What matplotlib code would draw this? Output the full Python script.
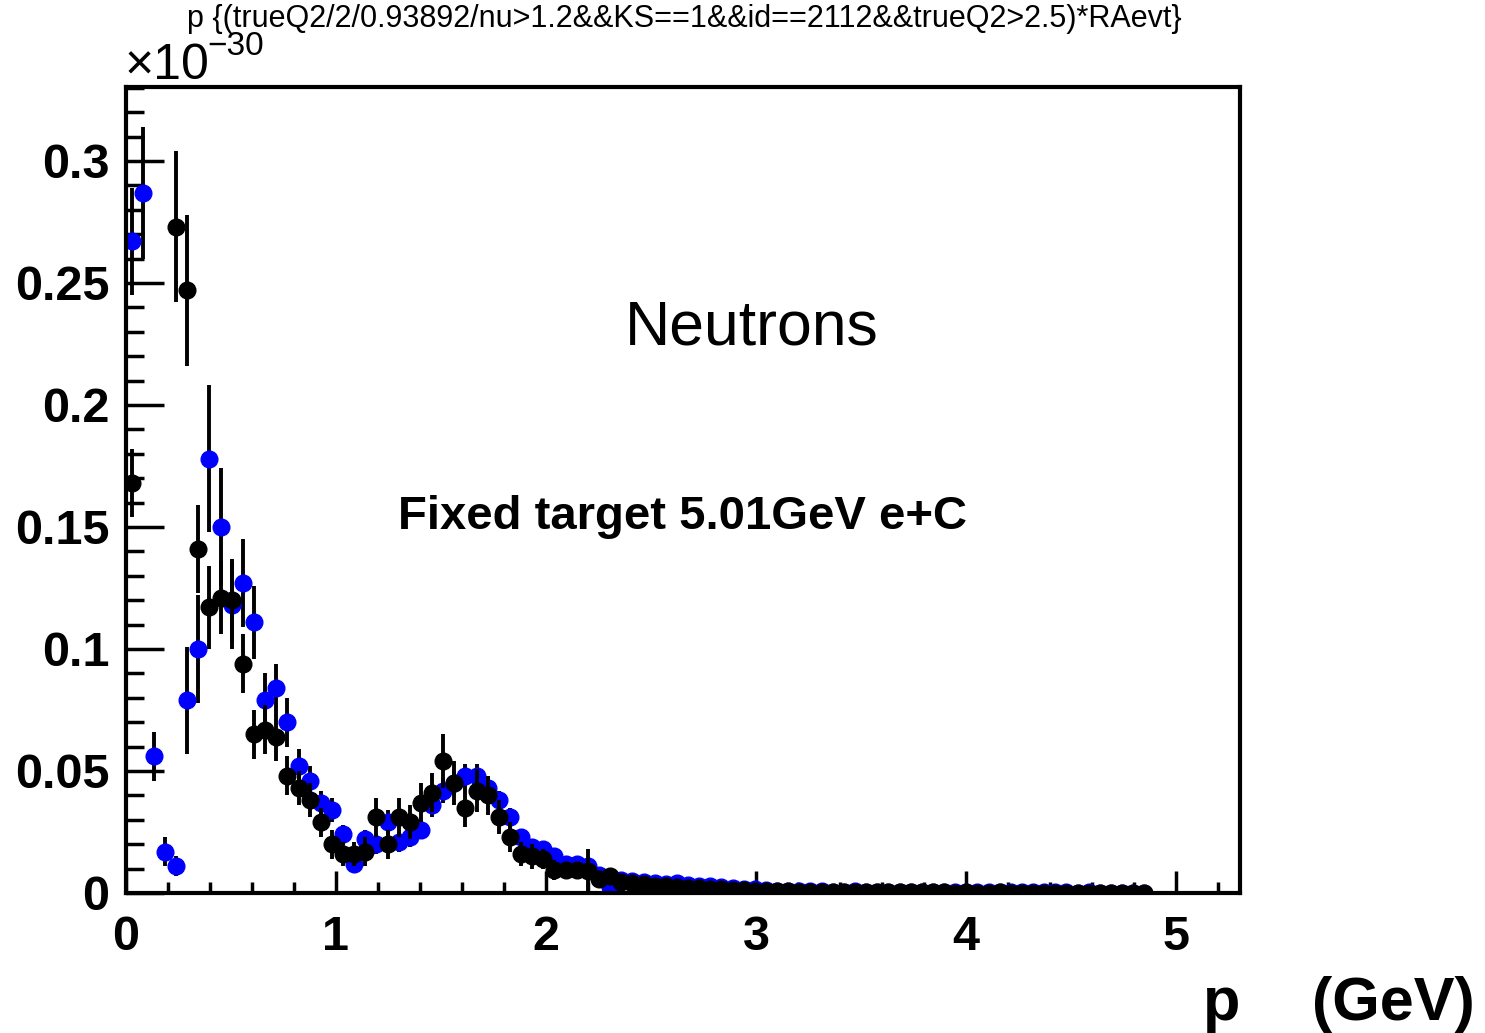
import numpy as np
import matplotlib
matplotlib.use("Agg")
import matplotlib.pyplot as plt
from matplotlib.ticker import MultipleLocator, FuncFormatter
from matplotlib import font_manager

# histogram binning: 100 bins of p from 0 to 5.3 GeV (only the first 92 are filled)
bin_width = 0.053
nbins = 92
p_centers = bin_width / 2 + bin_width * np.arange(nbins)

# blue series (values in units of 1e-30)
blue_vals = [0.267, 0.287, 0.056, 0.017, 0.011, 0.079, 0.100, 0.178, 0.150, 0.118,
             0.127, 0.111, 0.079, 0.084, 0.070, 0.052, 0.046, 0.037, 0.034, 0.024,
             0.012, 0.022, 0.020, 0.029, 0.021, 0.023, 0.026, 0.036, 0.042, 0.045,
             0.048, 0.048, 0.043, 0.038, 0.031, 0.023, 0.019, 0.018, 0.015, 0.012,
             0.012, 0.011, 0.0075, 0.0025, 0.0053, 0.0050, 0.0045, 0.0040, 0.0038, 0.0040,
             0.0032, 0.0030, 0.0028, 0.0025, 0.0022, 0.0018, 0.0015, 0.0012, 0.0010, 0.0009,
             0.0008, 0.0007, 0.0008, 0.0006, 0.0006, 0.0007, 0.0005, 0.0006, 0.0005, 0.0005,
             0.0004, 0.0005, 0.0004, 0.0004, 0.0005, 0.0004, 0.0004, 0.0003, 0.0004, 0.0003,
             0.0003, 0.0004, 0.0003, 0.0003, 0.0003, 0.0002, 0.0003, 0.0002, 0.0002, 0.0002,
             0.0002, 0.0001]
blue_errs = [0.022, 0.027, 0.010, 0.006, 0.004, 0.022, 0.022, 0.030, 0.024, 0.018,
             0.018, 0.015, 0.011, 0.010, 0.010, 0.007, 0.006, 0.005, 0.005, 0.004,
             0.003, 0.004, 0.004, 0.005, 0.004, 0.004, 0.004, 0.005, 0.005, 0.005,
             0.005, 0.005, 0.005, 0.004, 0.004, 0.003, 0.003, 0.003, 0.002, 0.002,
             0.002, 0.002, 0.002, 0.001, 0.0015, 0.0015, 0.0015, 0.0012, 0.0012, 0.0012,
             0.001, 0.001, 0.001, 0.001, 0.001, 0.0008, 0.0008, 0.0006, 0.0005, 0.0005,
             0.0004, 0.0004, 0.0004, 0.0003, 0.0003, 0.0003, 0.0003, 0.0003, 0.0003, 0.0003,
             0.0002, 0.0002, 0.0002, 0.0002, 0.0002, 0.0002, 0.0002, 0.0002, 0.0002, 0.0002,
             0.0002, 0.0002, 0.0002, 0.0002, 0.0002, 0.0001, 0.0001, 0.0001, 0.0001, 0.0001,
             0.0001, 0.0001]

# black series
black_vals = [0.168, np.nan, np.nan, np.nan, 0.273, 0.247, 0.141, 0.117, 0.121, 0.120,
              0.094, 0.065, 0.067, 0.064, 0.048, 0.043, 0.038, 0.029, 0.020, 0.016,
              0.016, 0.017, 0.031, 0.020, 0.031, 0.029, 0.037, 0.041, 0.054, 0.045,
              0.035, 0.042, 0.040, 0.031, 0.023, 0.016, 0.015, 0.014, 0.0095, 0.0095,
              0.0094, 0.0090, 0.0058, 0.0070, 0.0045, 0.0040, 0.0035, 0.0030, 0.0028, 0.0025,
              0.0022, 0.0020, 0.0018, 0.0015, 0.0013, 0.0012, 0.0010, 0.0009, 0.0008, 0.0007,
              0.0006, 0.0005, 0.0006, 0.0005, 0.0004, 0.0005, 0.0004, 0.0004, 0.0003, 0.0004,
              0.0003, 0.0003, 0.0003, 0.0003, 0.0002, 0.0003, 0.0002, 0.0002, 0.0003, 0.0002,
              0.0002, 0.0002, 0.0001, 0.0002, 0.0002, 0.0001, 0.0001, 0.0001, 0.0002, 0.0001,
              0.0001, 0.0001]
black_errs = [0.014, np.nan, np.nan, np.nan, 0.031, 0.031, 0.018, 0.017, 0.015, 0.017,
              0.012, 0.010, 0.010, 0.010, 0.008, 0.007, 0.007, 0.006, 0.006, 0.005,
              0.005, 0.006, 0.008, 0.006, 0.008, 0.007, 0.008, 0.008, 0.011, 0.009,
              0.008, 0.009, 0.008, 0.007, 0.006, 0.005, 0.005, 0.004, 0.004, 0.003,
              0.003, 0.009, 0.003, 0.003, 0.0025, 0.0025, 0.0025, 0.002, 0.002, 0.002,
              0.002, 0.002, 0.0018, 0.0015, 0.0013, 0.0012, 0.0010, 0.0009, 0.0008, 0.0007,
              0.0006, 0.0005, 0.0006, 0.0005, 0.0004, 0.0005, 0.0004, 0.0004, 0.0003, 0.0004,
              0.0003, 0.0003, 0.0003, 0.0003, 0.0002, 0.0003, 0.0002, 0.0002, 0.0003, 0.0002,
              0.0002, 0.0002, 0.0001, 0.0002, 0.0002, 0.0001, 0.0001, 0.0001, 0.0002, 0.0001,
              0.0001, 0.0001]

title = "p {(trueQ2/2/0.93892/nu>1.2&&KS==1&&id==2112&&trueQ2>2.5)*RAevt}"


def pick_font(names):
    for n in names:
        try:
            font_manager.findfont(n, fallback_to_default=False)
            return n
        except Exception:
            pass
    return "DejaVu Sans"


main_font = pick_font(["Liberation Sans", "Arial", "DejaVu Sans"])
narrow_font = pick_font(["Liberation Sans Narrow", "Liberation Sans"])
plt.rcParams["font.family"] = main_font

W, H = 1485, 1033
fig = plt.figure(figsize=(W / 100, H / 100), dpi=100)
ax = fig.add_axes([126 / W, 1 - 893 / H, (1240 - 126) / W, (893 - 87) / H])

ax.errorbar(p_centers, blue_vals, yerr=blue_errs, xerr=bin_width / 2, fmt="o",
            color="#0000ff", mec="#0000ff", ms=12, ecolor="black",
            elinewidth=2.8, capsize=0, zorder=2)
ax.errorbar(p_centers, black_vals, yerr=black_errs, xerr=bin_width / 2, fmt="o",
            color="black", mec="black", ms=12, ecolor="black",
            elinewidth=2.8, capsize=0, zorder=3)

ax.set_xlim(0, 5.305)
ax.set_ylim(0, 0.3303)

ax.xaxis.set_major_locator(MultipleLocator(1))
ax.xaxis.set_minor_locator(MultipleLocator(0.2))
ax.yaxis.set_major_locator(MultipleLocator(0.05))
ax.yaxis.set_minor_locator(MultipleLocator(0.01))
ax.yaxis.set_major_formatter(FuncFormatter(lambda v, _: f"{v:g}"))

for s in ax.spines.values():
    s.set_linewidth(3)

ax.tick_params(axis="x", which="major", direction="in", length=16, width=2.5,
               pad=16, labelsize=35)
ax.tick_params(axis="x", which="minor", direction="in", length=8, width=2.5)
ax.tick_params(axis="y", which="major", direction="in", length=27, width=2.5,
               pad=12, labelsize=35)
ax.tick_params(axis="y", which="minor", direction="in", length=13, width=2.5)
for lab in ax.get_xticklabels() + ax.get_yticklabels():
    lab.set_fontweight("bold")

# texts
fig.text(752 / W, 1 - 328 / H, "Neutrons", fontsize=45, ha="center", va="center")
fig.text(683 / W, 1 - 517 / H, "Fixed target 5.01GeV e+C", fontsize=34,
         fontweight="bold", ha="center", va="center")
fig.text(684 / W, 1 - 27 / H, title, fontsize=22, family=narrow_font,
         ha="center", va="baseline")
fig.text(125 / W, 1 - 79 / H, "\u00d710", fontsize=36, ha="left", va="baseline")
fig.text(207 / W, 1 - 55 / H, "\u221230", fontsize=24, ha="left", va="baseline")
fig.text(1222 / W, 1 - 1020 / H, "p", fontsize=44, fontweight="bold",
         ha="center", va="baseline")
fig.text(1475 / W, 1 - 1020 / H, "(GeV)", fontsize=44, fontweight="bold",
         ha="right", va="baseline")

fig.savefig("out.png", dpi=100)
